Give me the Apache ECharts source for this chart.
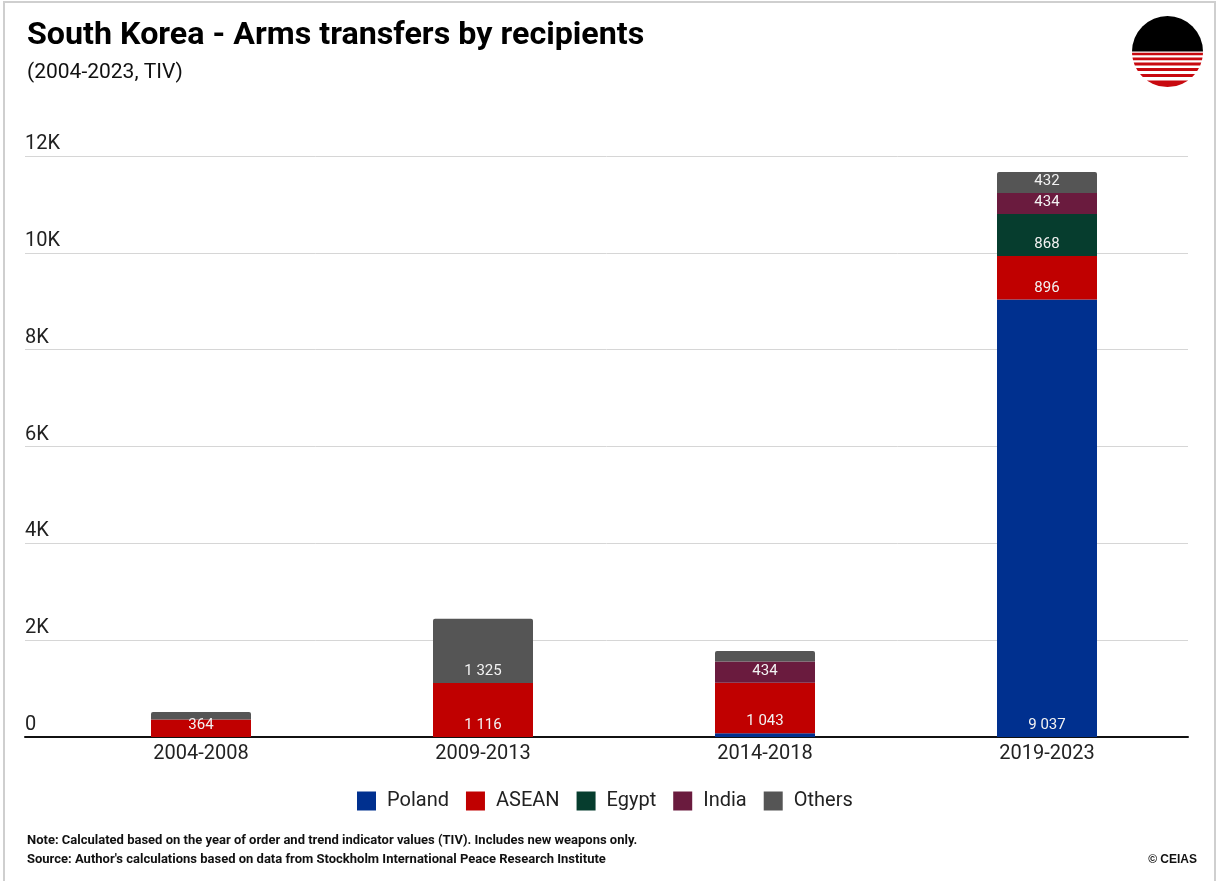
<!DOCTYPE html>
<html>
<head>
<meta charset="utf-8">
<script src="https://cdn.jsdelivr.net/npm/echarts@6/dist/echarts.min.js"></script>
<style>
  html, body { margin: 0; padding: 0; background: #fff; }
  #chart { width: 1219px; height: 881px; }
</style>
</head>
<body>
<div id="chart"></div>
<script>
// Periods and recipient values (TIV, millions)
const periods = ['2004-2008', '2009-2013', '2014-2018', '2019-2023'];
const poland  = [0, 0, 80, 9037];
const asean   = [364, 1116, 1043, 896];
const egypt   = [0, 0, 0, 868];
const india   = [0, 0, 434, 434];
const others  = [150, 1325, 220, 432];

const yTicks = [0, 2000, 4000, 6000, 8000, 10000, 12000];

const colors = {
  Poland: '#00308F',
  ASEAN: '#C00000',
  Egypt: '#063D2E',
  India: '#6A1B3E',
  Others: '#555555'
};

const FONT = 'Roboto, "Noto Sans", sans-serif';

function fmt(v) {
  return String(v).replace(/\B(?=(\d{3})+(?!\d))/g, ' ');
}

function makeSeries(name, data, top) {
  return {
    name: name,
    type: 'bar',
    stack: 'total',
    xAxisIndex: 1,
    yAxisIndex: 1,
    barWidth: 100,
    data: data,
    itemStyle: { color: colors[name], borderRadius: top ? [2, 2, 0, 0] : 0 },
    label: {
      show: true,
      position: 'insideBottom',
      distance: 4,
      color: '#f2f2f2',
      fontFamily: FONT,
      fontSize: 15,
      formatter: p => (p.value >= 300 ? fmt(p.value) : '')
    },
    emphasis: { disabled: true }
  };
}

// Logo: black upper half, red stripes across the lower half
const logoCx = 1167.5, logoCy = 51.5, logoR = 35.5;
const stripeBands = [[52.8, 55.3], [57.6, 60.2], [62.6, 65.4], [68.0, 71.0], [74.0, 77.0], [80.4, 87.0]];
function chordHalf(y) {
  const d = Math.min(Math.abs(y - logoCy), logoR);
  return Math.sqrt(logoR * logoR - d * d);
}
const logoParts = [{
  type: 'sector',
  shape: { cx: logoCx, cy: logoCy, r: logoR, startAngle: Math.PI, endAngle: Math.PI * 2 },
  style: { fill: '#000' }
}];
stripeBands.forEach(([y1, y2]) => {
  const pts = [];
  const steps = 6;
  for (let i = 0; i <= steps; i++) {
    const y = y1 + (y2 - y1) * i / steps;
    pts.push([logoCx + chordHalf(y), y]);
  }
  for (let i = steps; i >= 0; i--) {
    const y = y1 + (y2 - y1) * i / steps;
    pts.push([logoCx - chordHalf(y), y]);
  }
  logoParts.push({ type: 'polygon', shape: { points: pts }, style: { fill: '#C8090F' } });
});

const chart = echarts.init(document.getElementById('chart'), null, { renderer: 'canvas' });

chart.setOption({
  animation: false,
  backgroundColor: '#fff',
  textStyle: { fontFamily: FONT },
  grid: [
    { left: 25, right: 31, top: 156, bottom: 144 },
    { left: 60, right: 31, top: 156, bottom: 144 }
  ],
  xAxis: [
    {
      type: 'category', gridIndex: 0, data: [''],
      axisLine: { show: true, lineStyle: { color: '#111', width: 2 } },
      axisTick: { show: false }, axisLabel: { show: false }
    },
    {
      type: 'category', gridIndex: 1, data: periods,
      axisLine: { show: false }, axisTick: { show: false },
      axisLabel: { color: '#222', fontSize: 20, fontFamily: FONT, margin: 7 }
    }
  ],
  yAxis: [
    {
      type: 'value', gridIndex: 0, min: 0, max: 12000, interval: 2000,
      axisLine: { show: false }, axisTick: { show: false },
      splitLine: { lineStyle: { color: '#d6d6d6', width: 1 } },
      axisLabel: {
        inside: true, margin: 0, align: 'left', verticalAlign: 'bottom',
        padding: [0, 0, 2, 0],
        color: '#222', fontSize: 20, fontFamily: FONT,
        formatter: v => (yTicks.indexOf(v) === 0 ? '0' : v / 1000 + 'K')
      }
    },
    {
      type: 'value', gridIndex: 1, min: 0, max: 12000, interval: 2000,
      show: false, splitLine: { show: false }
    }
  ],
  legend: {
    top: 786, left: 352,
    itemWidth: 19, itemHeight: 19, itemGap: 17,
    icon: 'rect',
    selectedMode: false,
    textStyle: { color: '#222', fontSize: 20, fontFamily: FONT, padding: [0, 0, 0, 6] },
    data: ['Poland', 'ASEAN', 'Egypt', 'India', 'Others']
  },
  series: [
    makeSeries('Poland', poland, false),
    makeSeries('ASEAN', asean, false),
    makeSeries('Egypt', egypt, false),
    makeSeries('India', india, false),
    makeSeries('Others', others, true)
  ],
  graphic: [
    {
      type: 'rect', silent: true, z: -1,
      shape: { x: 4, y: 2, width: 1211, height: 900 },
      style: { fill: 'none', stroke: '#cfcfcf', lineWidth: 2 }
    },
    {
      type: 'text', x: 27, y: 36, scaleX: 1.04,
      style: {
        text: 'South Korea - Arms transfers by recipients',
        fontFamily: FONT, fontWeight: 'bold', fontSize: 31,
        fill: '#000', verticalAlign: 'middle'
      }
    },
    {
      type: 'text', x: 27, y: 73,
      style: {
        text: '(2004-2023, TIV)',
        fontFamily: FONT, fontSize: 21, fill: '#111', verticalAlign: 'middle'
      }
    },
    {
      type: 'text', x: 27, y: 841,
      style: {
        text: 'Note: Calculated based on the year of order and trend indicator values (TIV). Includes new weapons only.',
        fontFamily: FONT, fontWeight: 'bold', fontSize: 13, fill: '#111', verticalAlign: 'middle'
      }
    },
    {
      type: 'text', x: 27, y: 860,
      style: {
        text: "Source: Author's calculations based on data from Stockholm International Peace Research Institute",
        fontFamily: FONT, fontWeight: 'bold', fontSize: 13, fill: '#111', verticalAlign: 'middle'
      }
    },
    {
      type: 'text', x: 1197, y: 860,
      style: {
        text: '© CEIAS',
        fontFamily: '"Liberation Sans", Arial, sans-serif', fontWeight: 'bold', fontSize: 12,
        fill: '#111', align: 'right', verticalAlign: 'middle'
      }
    },
    { type: 'group', children: logoParts }
  ]
});
</script>
</body>
</html>
